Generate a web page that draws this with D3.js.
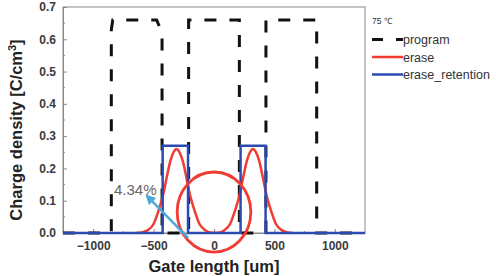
<!DOCTYPE html>
<html>
<head>
<meta charset="utf-8">
<script src="https://cdn.jsdelivr.net/npm/d3@7"></script>
<style>
  body { margin: 0; background: #fff; }
  svg { font-family: "Liberation Sans", Arial, sans-serif; }
</style>
</head>
<body>
<div id="chart"></div>
<script>
const $ = (el) => d3.select(el);

// ---- data ----
const xTicks = [-1000, -500, 0, 500, 1000];
const yTicks = [0, 0.1, 0.2, 0.3, 0.4, 0.5, 0.6, 0.7];

const programX = [-1250, -850, -850, -838, -475, -430, -430, -210, -210, 210, 210, 430, 430, 850, 850, 1250];
const programY = [0, 0, 0.63, 0.66, 0.66, 0.62, 0, 0, 0.66, 0.66, 0, 0, 0.66, 0.66, 0, 0];

const eraseX = [-650, -600, -550, -500, -450, -420, -390, -360, -335, -311, -285, -260, -230, -200, -170, -120, -70, -20,
  33, 83, 133, 183, 213, 243, 273, 298, 322, 348, 373, 403, 433, 463, 513, 563, 613, 650];
const eraseY = [0, 0.002, 0.008, 0.028, 0.08, 0.12, 0.175, 0.225, 0.25, 0.26, 0.25, 0.225, 0.175, 0.12, 0.08, 0.028, 0.008, 0.001,
  0.001, 0.008, 0.028, 0.08, 0.12, 0.175, 0.225, 0.25, 0.26, 0.25, 0.225, 0.175, 0.12, 0.08, 0.028, 0.008, 0.002, 0];

const retentionX = [-1250, -425, -425, -215, -215, 220, 220, 427, 427, 1250];
const retentionY = [0, 0, 0.27, 0.27, 0, 0, 0.27, 0.27, 0, 0];

const seriesNames = ["program", "erase", "erase_retention"];
const tempLabel = "75 \u2103";

// annotation (in data units)
const noteText = "4.34%";
const noteCircle = { x: 0, y: 0.065, rx: 305, ry: 0.124 };
const noteArrow = { x1: -215, y1: -0.015, x2: -555, y2: 0.115 };

// ---- layout ----
const width = 496, height = 276;
const plot = { left: 63, right: 365, top: 7, bottom: 233 };
const colors = { program: "#111", erase: "#f03c32", retention: "#2c4bb0", arrow: "#4aa8dc", axis: "#8a8a8a", text: "#333" };

const x = d3.scaleLinear().domain([-1250, 1250]).range([plot.left, plot.right]);
const y = d3.scaleLinear().domain([0, 0.7]).range([plot.bottom, plot.top]);

const svg = $("#chart").append("svg")
  .attr("width", width)
  .attr("height", height)
  .attr("viewBox", [0, 0, width, height]);

// frame
svg.append("rect")
  .attr("x", plot.left).attr("y", plot.top)
  .attr("width", plot.right - plot.left).attr("height", plot.bottom - plot.top)
  .attr("fill", "none").attr("stroke", colors.axis).attr("stroke-width", 1);

// axes with inward ticks
const yAxis = d3.axisLeft(y).tickValues(yTicks).tickFormat(d3.format(".1f")).tickSizeInner(-4).tickSizeOuter(0).tickPadding(7);
const xAxis = d3.axisBottom(x).tickValues(xTicks).tickFormat(d3.format("d")).tickSizeInner(-4).tickSizeOuter(0).tickPadding(8);

const gy = svg.append("g").attr("transform", `translate(${plot.left},0)`).call(yAxis);
const gx = svg.append("g").attr("transform", `translate(0,${plot.bottom})`).call(xAxis);
[gx, gy].forEach((g) => {
  g.select(".domain").attr("stroke", colors.axis);
  g.selectAll(".tick line").attr("stroke", colors.axis);
  g.selectAll(".tick text")
    .attr("fill", "#3a3a3a")
    .attr("font-size", 12)
    .attr("font-weight", "bold")
    .attr("font-family", "Liberation Sans, Arial, sans-serif");
});

// minor ticks
const minorY = d3.range(0.05, 0.7, 0.1);
svg.append("g").selectAll("line").data(minorY).join("line")
  .attr("x1", plot.left).attr("x2", plot.left + 2)
  .attr("y1", (d) => y(d)).attr("y2", (d) => y(d))
  .attr("stroke", colors.axis);
const minorX = [-750, -250, 250, 750];
svg.append("g").selectAll("line").data(minorX).join("line")
  .attr("x1", (d) => x(d)).attr("x2", (d) => x(d))
  .attr("y1", plot.bottom).attr("y2", plot.bottom - 2)
  .attr("stroke", colors.axis);

// axis titles
svg.append("text")
  .attr("transform", `translate(22,${(plot.top + plot.bottom) / 2 + 10}) rotate(-90)`)
  .attr("text-anchor", "middle")
  .attr("font-size", 16.5).attr("font-weight", "bold").attr("fill", "#222")
  .text("Charge density [C/cm")
  .append("tspan").attr("baseline-shift", "super").attr("font-size", 11).text("3")
  .select(function () { return this.parentNode; })
  .append("tspan").text("]");

svg.append("text")
  .attr("x", (plot.left + plot.right) / 2).attr("y", 271.5)
  .attr("text-anchor", "middle")
  .attr("font-size", 16.5).attr("font-weight", "bold").attr("fill", "#222")
  .text("Gate length [um]");

// series
const zip = (xs, ys) => xs.map((v, i) => [v, ys[i]]);
const line = d3.line().x((d) => x(d[0])).y((d) => y(d[1]));
const smooth = d3.line().x((d) => x(d[0])).y((d) => y(d[1])).curve(d3.curveMonotoneX);

svg.append("path")
  .datum(zip(programX, programY))
  .attr("d", line)
  .attr("fill", "none").attr("stroke", colors.program)
  .attr("stroke-width", 3).attr("stroke-dasharray", "12,13");

svg.append("path")
  .datum(zip(eraseX, eraseY))
  .attr("d", smooth)
  .attr("fill", "none").attr("stroke", colors.erase).attr("stroke-width", 2.5);

svg.append("path")
  .datum(zip(retentionX, retentionY))
  .attr("d", line)
  .attr("fill", "none").attr("stroke", colors.retention).attr("stroke-width", 2.5);

// annotation
svg.append("ellipse")
  .attr("cx", x(noteCircle.x)).attr("cy", y(noteCircle.y))
  .attr("rx", x(noteCircle.rx) - x(0)).attr("ry", y(0) - y(noteCircle.ry))
  .attr("fill", "none").attr("stroke", colors.erase).attr("stroke-width", 2.8);

svg.append("defs").append("marker")
  .attr("id", "head").attr("viewBox", "0 0 10 10")
  .attr("refX", 8).attr("refY", 5)
  .attr("markerWidth", 4).attr("markerHeight", 4)
  .attr("orient", "auto")
  .append("path").attr("d", "M0,0L10,5L0,10z").attr("fill", colors.arrow);

svg.append("line")
  .attr("x1", x(noteArrow.x1)).attr("y1", y(noteArrow.y1))
  .attr("x2", x(noteArrow.x2)).attr("y2", y(noteArrow.y2))
  .attr("stroke", colors.arrow).attr("stroke-width", 2.5)
  .attr("marker-end", "url(#head)");

svg.append("text")
  .attr("x", 114).attr("y", 195)
  .attr("font-size", 15).attr("fill", "#666")
  .text(noteText);

// legend
const legend = svg.append("g").attr("transform", "translate(372,0)");
legend.append("text").attr("x", 0).attr("y", 24)
  .attr("font-size", 8.5).attr("fill", colors.text).text(tempLabel);
const legendStyles = [
  { color: colors.program, dash: "11,13" },
  { color: colors.erase, dash: null },
  { color: colors.retention, dash: null },
];
seriesNames.forEach((name, i) => {
  const cy = 39.5 + i * 17.5;
  legend.append("line")
    .attr("x1", 0).attr("x2", 31).attr("y1", cy).attr("y2", cy)
    .attr("stroke", legendStyles[i].color).attr("stroke-width", i === 0 ? 3 : 2.5)
    .attr("stroke-dasharray", legendStyles[i].dash);
  legend.append("text").attr("x", 31).attr("y", cy + 4.5)
    .attr("font-size", 12.5).attr("fill", colors.text).text(name);
});
</script>
</body>
</html>
